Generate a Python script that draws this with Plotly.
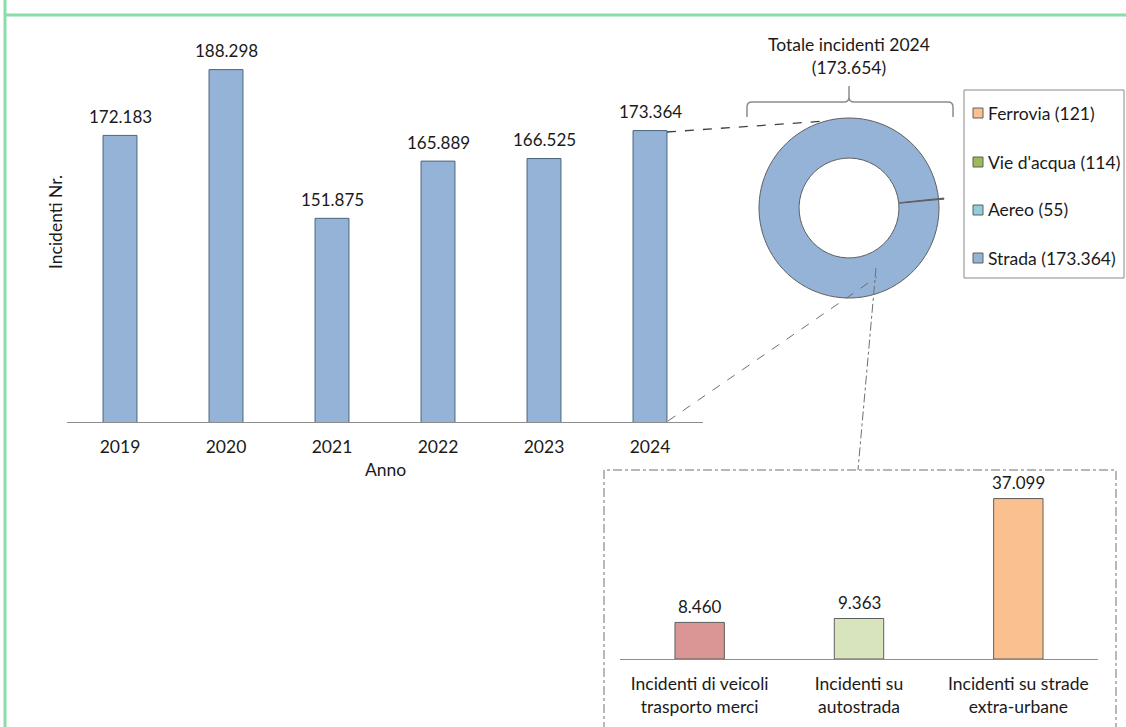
import plotly.graph_objects as go

# ---- data -------------------------------------------------------------
anni = ["2019", "2020", "2021", "2022", "2023", "2024"]
incidenti = [172183, 188298, 151875, 165889, 166525, 173364]

modi = ["Ferrovia", "Vie d'acqua", "Aereo", "Strada"]
incidenti_modo = [121, 114, 55, 173364]
colori_modo = ["#FAC090", "#9BBB59", "#92CDDC", "#95B3D7"]

categorie_strada = ["Incidenti di veicoli<br>trasporto merci",
                    "Incidenti su<br>autostrada",
                    "Incidenti su strade<br>extra-urbane"]
incidenti_strada = [8460, 9363, 37099]
colori_strada = ["#D99694", "#D7E4BD", "#FAC090"]

# ---- helpers ----------------------------------------------------------
W, H = 1126, 727
FONT = "Lato"
TXT = "#1a1a1a"
FS = 17.5     # text size
FN = 17       # number size


def fx(px):
    return px / W


def fy(py):
    return 1 - py / H


def it(v):
    return f"{v:,}".replace(",", ".")


fig = go.Figure()

# main bar chart (yearly totals)
fig.add_trace(go.Bar(
    x=anni, y=incidenti, width=0.32,
    marker=dict(color="#95B3D7", line=dict(color="#4A6380", width=1)),
    xaxis="x", yaxis="y", showlegend=False, hoverinfo="x+y",
))

# 2024 breakdown by transport mode (donut)
pull = 0.06
r_px = 90
half = r_px * (1 + pull)
cx, cy = 849, 208
fig.add_trace(go.Pie(
    labels=modi, values=incidenti_modo, sort=False, direction="clockwise",
    rotation=84, hole=0.555, textinfo="none",
    pull=[pull, pull, pull, 0],
    marker=dict(colors=colori_modo, line=dict(color="#5f5f5f", width=1)),
    domain=dict(x=[fx(cx - half), fx(cx + half)], y=[fy(cy + half), fy(cy - half)]),
    showlegend=False, automargin=False,
))

# road accident detail
fig.add_trace(go.Bar(
    x=categorie_strada, y=incidenti_strada, width=0.31,
    marker=dict(color=colori_strada, line=dict(color="#5f5f5f", width=1)),
    xaxis="x2", yaxis="y2", showlegend=False,
))

annotations = []
# value labels above the bars (category index positions)
for i, v in enumerate(incidenti):
    annotations.append(dict(x=i, y=v, xref="x", yref="y", text=it(v), showarrow=False,
                            yanchor="middle", yshift=19, font=dict(size=FN, color=TXT)))
for i, v in enumerate(incidenti_strada):
    annotations.append(dict(x=i, y=v, xref="x2", yref="y2", text=it(v), showarrow=False,
                            yanchor="middle", yshift=16, font=dict(size=FN, color=TXT)))

annotations += [
    dict(x=fx(56), y=fy(222), xref="paper", yref="paper", text="Incidenti Nr.", textangle=-90,
         xanchor="center", yanchor="middle", showarrow=False, font=dict(size=FS, color=TXT)),
    dict(x=fx(385), y=fy(469), xref="paper", yref="paper", text="Anno",
         xanchor="center", yanchor="middle", showarrow=False, font=dict(size=FS, color=TXT)),
    dict(x=fx(849), y=fy(56), xref="paper", yref="paper",
         text=f"Totale incidenti 2024<br>({it(sum(incidenti_modo))})",
         xanchor="center", yanchor="middle", showarrow=False, font=dict(size=FS, color=TXT)),
]

shapes = []
line_grey = "#404040"

# legend of the donut
shapes.append(dict(type="rect", xref="paper", yref="paper", x0=fx(964), x1=fx(1124),
                   y0=fy(278), y1=fy(90), line=dict(color="#8a8a8a", width=1), fillcolor="white"))
leg_y = [113, 162, 210, 258]
for name, v, col, ly in zip(modi, incidenti_modo, colori_modo, leg_y):
    shapes.append(dict(type="rect", xref="paper", yref="paper", x0=fx(973), x1=fx(983),
                       y0=fy(ly + 5), y1=fy(ly - 5), line=dict(color="#5f5f5f", width=1),
                       fillcolor=col))
    annotations.append(dict(x=fx(986), y=fy(ly), xref="paper", yref="paper", xanchor="left",
                            yanchor="middle", text=f"{name} ({it(v)})", showarrow=False,
                            font=dict(size=FS, color=TXT)))

# curly brace over the donut
def P(x, y):
    return f"{fx(x):.5f},{fy(y):.5f}"


brace = (f"M {P(747,117)} L {P(747,107)} Q {P(747,102)} {P(752,102)} L {P(844,102)} "
         f"Q {P(849,102)} {P(849,97)} L {P(849,86)} L {P(849,97)} Q {P(849,102)} {P(854,102)} "
         f"L {P(948,102)} Q {P(953,102)} {P(953,107)} L {P(953,117)}")
shapes.append(dict(type="path", xref="paper", yref="paper", path=brace,
                   line=dict(color="#8c8c8c", width=1.5)))

# connectors from the 2024 bar to the donut
shapes.append(dict(type="line", xref="paper", yref="paper", x0=fx(667), y0=fy(132),
                   x1=fx(826), y1=fy(121), line=dict(color=line_grey, width=1.3, dash="dash")))
shapes.append(dict(type="line", xref="paper", yref="paper", x0=fx(668), y0=fy(421),
                   x1=fx(877), y1=fy(277), line=dict(color="#707070", width=1, dash="dash")))
# connector from the donut to the detail box
shapes.append(dict(type="line", xref="paper", yref="paper", x0=fx(876), y0=fy(268),
                   x1=fx(858), y1=fy(470), line=dict(color="#707070", width=1, dash="dashdot")))
# detail box
shapes.append(dict(type="rect", xref="paper", yref="paper", x0=fx(604), x1=fx(1116),
                   y0=fy(760), y1=fy(470), line=dict(color="#707070", width=1, dash="dashdot")))

# page frame
frame = "#8ADDA9"
shapes.append(dict(type="line", xref="paper", yref="paper", x0=fx(5), x1=1, y0=fy(15), y1=fy(15),
                   line=dict(color=frame, width=3)))
shapes.append(dict(type="line", xref="paper", yref="paper", x0=fx(5), x1=fx(5), y0=0, y1=1,
                   line=dict(color=frame, width=3)))

axis_common = dict(type="category", showgrid=False, zeroline=False, showline=True,
                   linecolor="#8c8c8c", linewidth=1, ticks="", automargin=False,
                   tickfont=dict(size=FS, color=TXT, family=FONT))

fig.update_layout(
    width=W, height=H, margin=dict(l=0, r=0, t=0, b=0, autoexpand=False),
    paper_bgcolor="white", plot_bgcolor="rgba(0,0,0,0)",
    font=dict(family=FONT, size=FS, color=TXT),
    separators=",.",
    xaxis=dict(domain=[fx(67), fx(703)], anchor="y", ticklabelstandoff=9,
               range=[-0.5, len(anni) - 0.5], categoryarray=anni, categoryorder="array",
               **axis_common),
    yaxis=dict(domain=[fy(422), fy(30)], anchor="x", range=[102000, 198000],
               visible=False, automargin=False),
    xaxis2=dict(domain=[fx(620), fx(1098)], anchor="y2", ticklabelstandoff=9,
                range=[-0.5, len(categorie_strada) - 0.5], **axis_common),
    yaxis2=dict(domain=[fy(659), fy(486)], anchor="x2", range=[0, 40000], visible=False,
                automargin=False),
    annotations=annotations,
    shapes=shapes,
)

fig.write_html("out.html")
